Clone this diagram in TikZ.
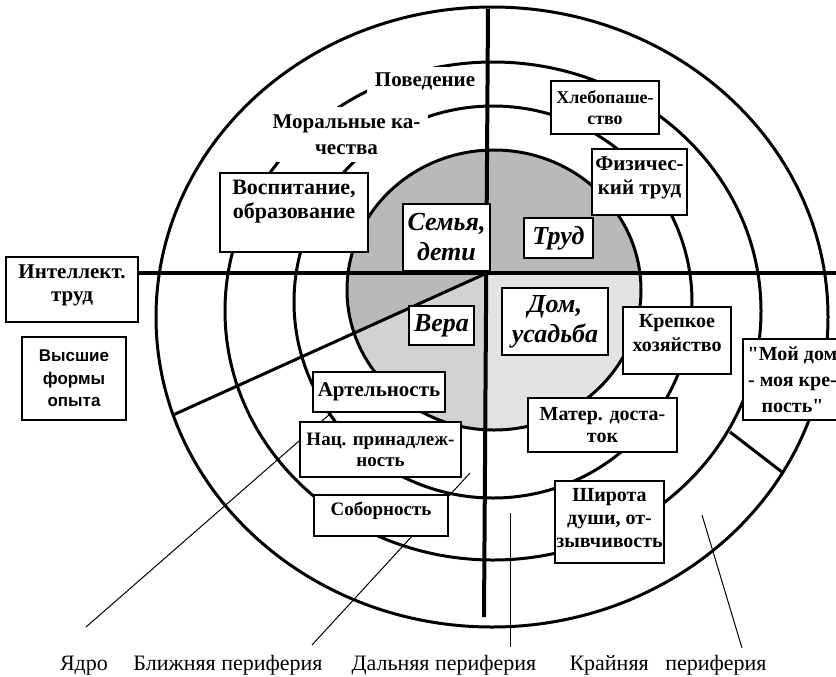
\documentclass[tikz,border=0pt]{standalone}
\usepackage{fontspec}
\setmainfont{Liberation Serif}
\newfontfamily\labelsans{Liberation Sans}
\newfontfamily\quoteserif{Liberation Serif}[Ligatures=TeXOff]
\usepackage{tikz}

\begin{document}
\begin{tikzpicture}[
    x=0.5pt, y=-0.5pt,
    ring/.style={line width=1.5pt},
    axis/.style={line width=2pt},
    leader/.style={line width=0.5pt},
    box/.style={draw, fill=white, line width=1.1pt, align=center, inner sep=1pt,
        font=\bfseries\fontsize{10}{12}\selectfont},
    corebox/.style={box, font=\bfseries\itshape\fontsize{13}{15}\selectfont},
    tag/.style={fill=white, align=center, inner sep=1pt,
        font=\bfseries\fontsize{10.5}{13}\selectfont},
    boxtext/.style={below, align=center, inner sep=4pt,
        font=\bfseries\fontsize{10}{12}\selectfont},
    zone/.style={anchor=base, font=\fontsize{11}{13}\selectfont}
]
    \useasboundingbox (0,0) rectangle (836,676);

    % Core shading
    \begin{scope}
        \clip (494,290) ellipse [x radius=147, y radius=140];
        \fill[gray!55] (330,140) rectangle (660,273);
        \fill[gray!55] (487,273) -- (330,273) -- (330,344) -- cycle;
        \fill[gray!35] (487,273) -- (330,344) -- (330,440) -- (486,440) -- cycle;
        \fill[gray!22] (486,273) rectangle (660,440);
    \end{scope}

    % Rings: outer, far, near, core
    \foreach \cx/\cy/\rx/\ry in {492/317/336/310, 493/311/268/249, 493/302/199/196, 494/290/147/140}
        \draw[ring] (\cx,\cy) ellipse [x radius=\rx, y radius=\ry];

    % Axes
    \coordinate (c) at (487,273);
    \coordinate (top) at (488,9);
    \coordinate (bottom) at (484,617);
    \coordinate (rightEnd) at (836,273);
    \coordinate (diagEnd) at (173,415);
    \coordinate (cutA) at (730,432);
    \coordinate (cutB) at (782,472);

    \node[box, minimum width=66pt, minimum height=32.5pt] (intel) at (72,289.5) {};
    \node[boxtext, font=\bfseries\fontsize{10.5}{11.5}\selectfont] (intelText) at (intel.north) {Интеллект.\\труд};

    \draw[axis] (intel.east |- c) -- (rightEnd);
    \draw[axis] (top) -- (bottom);
    \draw[ring] (c) -- (diagEnd);
    \draw[ring] (cutA) -- (cutB);

    % Zone names and their leaders
    \node[zone] (yadro) at (84,670) {Ядро};
    \node[zone] (blizh) at (228,670) {Ближняя периферия};
    \node[zone] (daln) at (444,670) {Дальняя периферия};
    \node[zone] (krai) at (668,670) {Крайняя\hspace{0.5em} периферия};

    \coordinate (yadro-foot) at (86,627);
    \coordinate (yadro-tip) at (346,400);
    \coordinate (blizh-foot) at (312,645);
    \coordinate (blizh-tip) at (470,473);
    \coordinate (daln-foot) at (510,647);
    \coordinate (daln-tip) at (510,513);
    \coordinate (krai-foot) at (742,648);
    \coordinate (krai-tip) at (702,515);
    \foreach \n in {yadro,blizh,daln,krai}
        \draw[leader] (\n-foot) -- (\n-tip);

    % Upper left labels
    \node[tag, minimum width=58pt, minimum height=14pt] (povedenie) at (425,81) {Поведение};
    \node[tag, minimum width=81.5pt, minimum height=27.5pt] (moral) at (346.5,134.5) {Моральные ка-\\чества};

    \node[box, minimum width=74pt, minimum height=39.5pt] (vosp) at (294,212.5) {};
    \node[boxtext, font=\bfseries\fontsize{11}{12}\selectfont] (vospText) at (vosp.north) {Воспитание,\\образование};

    \node[box, minimum width=52pt, minimum height=41.5pt,
        font=\labelsans\bfseries\fontsize{8.5}{11.2}\selectfont] (vysshie) at (74,378.5) {Высшие\\формы\\опыта};

    % Upper right
    \node[box, minimum width=54pt, minimum height=26.5pt,
        font=\bfseries\fontsize{9}{10.5}\selectfont] (hleb) at (605,107.5) {Хлебопаше-\\ство};

    \node[box, minimum width=47.5pt, minimum height=33pt] (fiz) at (639.5,182) {};
    \node[boxtext, font=\bfseries\fontsize{10.5}{12}\selectfont] (fizText) at (fiz.north) {Физичес-\\кий труд};

    % Core
    \node[corebox, minimum width=43.5pt, minimum height=33.5pt] (semya) at (446.5,237.5) {Семья,\\дети};
    \node[corebox, minimum width=34.5pt, minimum height=20pt] (trud) at (558.5,238) {Труд};
    \node[corebox, minimum width=53pt, minimum height=33.5pt] (dom) at (555,321.5) {Дом,\\усадьба};
    \node[corebox, minimum width=32.5pt, minimum height=19.5pt] (vera) at (441.5,325.5) {Вера};

    % Lower right
    \node[box, minimum width=54pt, minimum height=33.5pt] (krep) at (677,340.5) {};
    \node[boxtext] (krepText) at (krep.north) {Крепкое\\хозяйство};

    \node[box, minimum width=49.5pt, minimum height=40.5pt,
        font=\quoteserif\bfseries\fontsize{10}{13}\selectfont] (moidom) at (792.5,379.5) {"Мой дом\\- моя кре-\\пость"};

    \node[box, minimum width=74.5pt, minimum height=27pt,
        font=\bfseries\fontsize{10}{11.25}\selectfont] (mater) at (602.5,425) {Матер. доста-\\ток};

    \node[box, minimum width=54.5pt, minimum height=41pt] (shir) at (609.5,522) {};
    \node[boxtext, font=\bfseries\fontsize{10}{11.5}\selectfont] (shirText) at (shir.north) {Широта\\души, от-\\зывчивость};

    % Lower left
    \node[box, minimum width=66pt, minimum height=20pt,
        font=\bfseries\fontsize{10.5}{12}\selectfont] (artel) at (379,392) {Артельность};
    \node[box, minimum width=80.5pt, minimum height=27.5pt,
        font=\bfseries\fontsize{9.5}{10.5}\selectfont] (nats) at (380.5,449.5) {Нац. принадлеж-\\ность};

    \node[box, minimum width=67pt, minimum height=20.5pt] (sobor) at (381,515.5) {};
    \node[boxtext, font=\bfseries\fontsize{9.5}{11}\selectfont] (soborText) at (sobor.north) {Соборность};

\end{tikzpicture}
\end{document}
